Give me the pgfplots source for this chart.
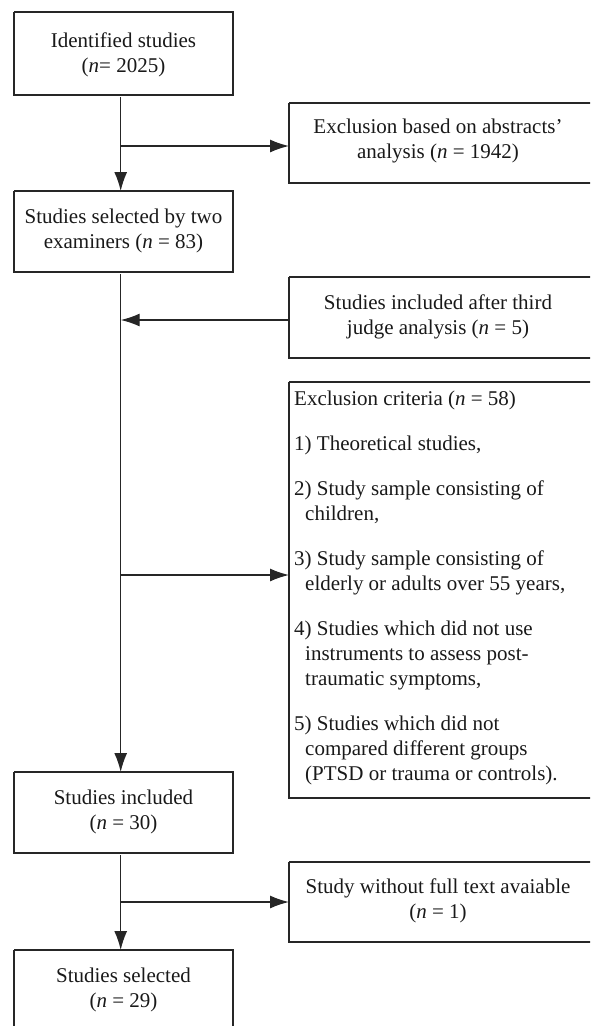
\documentclass[border=0pt]{standalone}
\usepackage{pgfplots}
\pgfplotsset{compat=1.18}
\usepackage{fontspec}
\setmainfont{Liberation Serif}
\usetikzlibrary{arrows.meta}

\tikzset{
    txt/.style={font=\fontsize{21}{25}\selectfont, inner sep=0pt, text=black!90},
    ln/.style={draw=black!85, solid, line width=1.4pt, line join=miter, mark=none},
    arr/.style={ln, -{Latex[length=19pt,width=13pt]}},
}

\begin{document}
\begin{tikzpicture}
\begin{axis}[
    width=590pt, height=1026pt, scale only axis,
    xmin=0, xmax=590, ymin=0, ymax=1026, y dir=reverse,
    axis lines=none, clip=true,
]
% boxes (left column)
\addplot[ln] coordinates {(14,12) (233,12) (233,95) (14,95) (14,12)};
\addplot[ln] coordinates {(14,191) (233,191) (233,272) (14,272) (14,191)};
\addplot[ln] coordinates {(14,772) (233,772) (233,853) (14,853) (14,772)};
\addplot[ln] coordinates {(14,950) (233,950) (233,1040) (14,1040) (14,950)};
% boxes (right column), cut at the right edge
\addplot[ln] coordinates {(289,103) (600,103) (600,183) (289,183) (289,103)};
\addplot[ln] coordinates {(289,277) (600,277) (600,358) (289,358) (289,277)};
\addplot[ln] coordinates {(289,382) (600,382) (600,798) (289,798) (289,382)};
\addplot[ln] coordinates {(289,862) (600,862) (600,942) (289,942) (289,862)};

% main flow
\addplot[arr] coordinates {(120.7,97) (120.7,191)};
\addplot[arr] coordinates {(120.7,274) (120.7,772)};
\addplot[arr] coordinates {(120.7,855) (120.7,950)};
% side arrows
\addplot[arr] coordinates {(120.7,146) (289,146)};
\addplot[arr] coordinates {(289,320) (120.7,320)};
\addplot[arr] coordinates {(120.7,575) (289,575)};
\addplot[arr] coordinates {(120.7,902) (289,902)};

% texts
\node[txt, anchor=mid] at (axis cs:123.5,45) {Identified studies};
\node[txt, anchor=mid] at (axis cs:123.5,70) {(\textit{n}= 2025)};
\node[txt, anchor=mid] at (axis cs:123.5,221) {Studies selected by two};
\node[txt, anchor=mid] at (axis cs:123.5,246) {examiners (\textit{n} = 83)};
\node[txt, anchor=mid] at (axis cs:123.5,802) {Studies included};
\node[txt, anchor=mid] at (axis cs:123.5,827) {(\textit{n} = 30)};
\node[txt, anchor=mid] at (axis cs:123.5,980) {Studies selected};
\node[txt, anchor=mid] at (axis cs:123.5,1005) {(\textit{n} = 29)};

\node[txt, anchor=mid] at (axis cs:438,131) {Exclusion based on abstracts’};
\node[txt, anchor=mid] at (axis cs:438,156) {analysis (\textit{n} = 1942)};
\node[txt, anchor=mid] at (axis cs:438,307) {Studies included after third};
\node[txt, anchor=mid] at (axis cs:438,332) {judge analysis (\textit{n} = 5)};
\node[txt, anchor=mid] at (axis cs:438,891) {Study without full text avaiable};
\node[txt, anchor=mid] at (axis cs:438,916) {(\textit{n} = 1)};

\node[txt, anchor=mid west] at (axis cs:294,403) {Exclusion criteria (\textit{n} = 58)};
\node[txt, anchor=mid west] at (axis cs:294,448) {1) Theoretical studies,};
\node[txt, anchor=mid west] at (axis cs:294,493) {2) Study sample consisting of};
\node[txt, anchor=mid west] at (axis cs:305,518) {children,};
\node[txt, anchor=mid west] at (axis cs:294,563) {3) Study sample consisting of};
\node[txt, anchor=mid west] at (axis cs:305,588) {elderly or adults over 55 years,};
\node[txt, anchor=mid west] at (axis cs:294,633) {4) Studies which did not use};
\node[txt, anchor=mid west] at (axis cs:305,658) {instruments to assess post-};
\node[txt, anchor=mid west] at (axis cs:305,683) {traumatic symptoms,};
\node[txt, anchor=mid west] at (axis cs:294,728) {5) Studies which did not};
\node[txt, anchor=mid west] at (axis cs:305,753) {compared different groups};
\node[txt, anchor=mid west] at (axis cs:305,778) {(PTSD or trauma or controls).};
\end{axis}
\pgfresetboundingbox
\path (current axis.south west) rectangle (current axis.north east);
\end{tikzpicture}
\end{document}
